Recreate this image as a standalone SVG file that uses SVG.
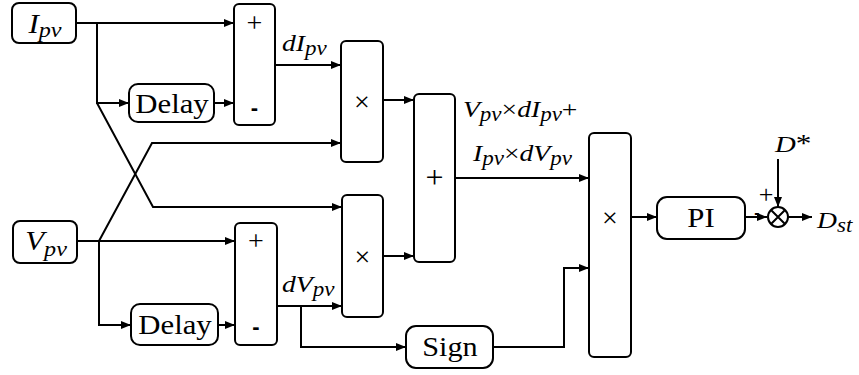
<svg xmlns="http://www.w3.org/2000/svg" width="859" height="375" viewBox="0 0 859 375">
<defs>
<marker id="ah" markerUnits="userSpaceOnUse" markerWidth="10" markerHeight="8" refX="10" refY="4" orient="auto">
<path d="M0,0 L10,4 L0,8 Z" fill="#000"/>
</marker>
</defs>
<style>
.box{fill:#fff;stroke:#000;stroke-width:2}
.ln{fill:none;stroke:#000;stroke-width:2;marker-end:url(#ah)}
.pl{fill:none;stroke:#000;stroke-width:2}
text{fill:#000;font-family:"Liberation Serif","Times New Roman",serif}
.i{font-style:italic}
.m{text-anchor:middle}
.minus{font-family:"Liberation Sans",Arial,sans-serif;font-weight:bold}
</style>
<rect width="859" height="375" fill="#fff"/>
<g id="connectors">
<path class="ln" d="M76 23 H234"/>
<path class="ln" d="M97 23 V103 H129"/>
<path class="ln" d="M214 103 H234"/>
<path class="ln" d="M275 65 H341"/>
<path class="ln" d="M97 103 L153 207 H342"/>
<path class="ln" d="M77 241 H235"/>
<path class="ln" d="M99 241 V325 H131"/>
<path class="ln" d="M99 241 L152 143 H341"/>
<path class="ln" d="M218 325 H235"/>
<path class="ln" d="M277 306 H342"/>
<path class="ln" d="M301 306 V347 H406"/>
<path class="ln" d="M383 100 H414"/>
<path class="ln" d="M383 256 H414"/>
<path class="ln" d="M455 178 H589"/>
<path class="ln" d="M493 347 H564 V268 H589"/>
<path class="ln" d="M631 217 H657"/>
<path class="ln" d="M745 217 H767"/>
<path class="ln" d="M778 159 V207"/>
<path class="ln" d="M788 217 H812"/>
</g>
<g id="Ipv">
<rect class="box" x="12" y="3" width="64" height="40" rx="7"/>
<text class="i m" transform="translate(45 33) scale(1.15 1)" font-size="27">I<tspan font-size="21" dy="4">pv</tspan></text>
</g>
<g id="Vpv">
<rect class="box" x="13" y="221" width="64" height="42" rx="7"/>
<text class="i m" transform="translate(46 250) scale(1.15 1)" font-size="27">V<tspan font-size="21" dy="6">pv</tspan></text>
</g>
<g id="delay1">
<rect class="box" x="129" y="84" width="85" height="38" rx="9"/>
<text class="m" transform="translate(172 113) scale(1.14 1)" font-size="27">Delay</text>
</g>
<g id="delay2">
<rect class="box" x="131" y="304" width="87" height="41" rx="9"/>
<text class="m" transform="translate(175 334) scale(1.14 1)" font-size="27">Delay</text>
</g>
<g id="sum1">
<rect class="box" x="234" y="4" width="41" height="121" rx="5"/>
<text class="m" x="254.5" y="32" font-size="28">+</text>
<text class="m minus" x="254.5" y="115" font-size="22">-</text>
</g>
<g id="sum3">
<rect class="box" x="235" y="223" width="42" height="122" rx="5"/>
<text class="m" x="256" y="250" font-size="28">+</text>
<text class="m minus" x="256" y="334" font-size="22">-</text>
</g>
<g id="mul1">
<rect class="box" x="341" y="41" width="42" height="121" rx="5"/>
<text class="m" x="362" y="111" font-size="28">×</text>
</g>
<g id="mul2">
<rect class="box" x="342" y="195" width="41" height="122" rx="5"/>
<text class="m" x="362.5" y="266" font-size="28">×</text>
</g>
<g id="sum2">
<rect class="box" x="414" y="94" width="41" height="168" rx="5"/>
<text class="m" x="434.5" y="188" font-size="32">+</text>
</g>
<g id="mul3">
<rect class="box" x="589" y="133" width="42" height="224" rx="5"/>
<text class="m" x="610" y="227" font-size="28">×</text>
</g>
<g id="PI">
<rect class="box" x="657" y="197" width="88" height="42" rx="10"/>
<text class="m" transform="translate(701 227) scale(1.14 1)" font-size="27">PI</text>
</g>
<g id="sign">
<rect class="box" x="406" y="326" width="87" height="42" rx="10"/>
<text class="m" transform="translate(450 356) scale(1.12 1)" font-size="27">Sign</text>
</g>
<g id="summer">
<circle cx="778" cy="217" r="10" fill="#fff" stroke="#000" stroke-width="2"/>
<path class="pl" d="M771 210 L785 224 M785 210 L771 224"/>
<text class="m" x="766" y="203" font-size="26">+</text>
<text class="m minus" x="757" y="218" font-size="16">-</text>
</g>
<g id="labels">
<text class="i" transform="translate(282 51) scale(1.15 1)" font-size="24">dI<tspan font-size="20" dy="4">pv</tspan></text>
<text class="i" transform="translate(282 292) scale(1.15 1)" font-size="24">dV<tspan font-size="20" dy="4">pv</tspan></text>
<text class="i" transform="translate(463 117) scale(1.15 1)" font-size="24">V<tspan font-size="20" dy="4">pv</tspan><tspan font-style="normal" dy="-4">×</tspan>dI<tspan font-size="20" dy="4">pv</tspan><tspan font-style="normal" dy="-4">+</tspan></text>
<text class="i" transform="translate(473 161) scale(1.15 1)" font-size="24">I<tspan font-size="20" dy="4">pv</tspan><tspan font-style="normal" dy="-4">×</tspan>dV<tspan font-size="20" dy="4">pv</tspan></text>
<text class="i" transform="translate(775 152) scale(1.2 1)" font-size="24">D<tspan font-style="normal" font-size="26">*</tspan></text>
<text class="i" transform="translate(817 228) scale(1.15 1)" font-size="24">D<tspan font-size="20" dy="4">st</tspan></text>
</g>
</svg>
